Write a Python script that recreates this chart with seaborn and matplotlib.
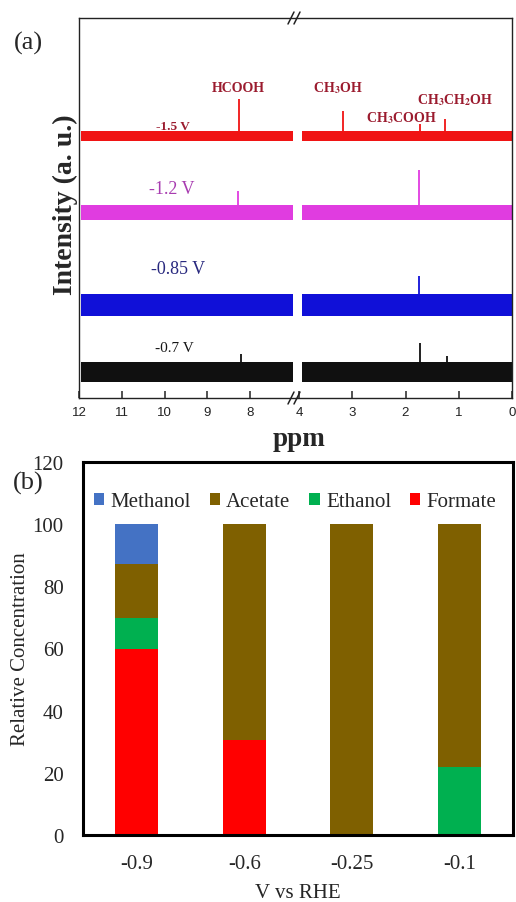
import numpy as np
import matplotlib
matplotlib.use("Agg")
import matplotlib.pyplot as plt
from matplotlib.patches import Patch
from matplotlib.lines import Line2D
import seaborn as sns

# ---------------- (a) 1H NMR spectra ----------------
spectra_labels = ["-1.5 V", "-1.2 V", "-0.85 V", "-0.7 V"]
spectra_colors = ["#f01414", "#e03ce0", "#1010d8", "#101010"]
label_colors = ["#9b1b2e", "#a83cb0", "#28287e", "#151515"]
baseline_offsets = [262, 186, 93, 26]       # vertical offset of each trace (a.u.)
noise_widths = [10, 15, 22, 20]             # thickness of the noise floor (a.u.)
peak_ppm = [[8.26, 3.17, 1.73, 1.26], [8.27, 1.74], [1.74], [8.20, 1.72, 1.23]]
peak_tops = [[299, 287, 274, 279], [207, 228], [122], [44, 55, 42]]
compounds = ["HCOOH", "CH$_\\mathbf{3}$OH", "CH$_\\mathbf{3}$COOH", "CH$_\\mathbf{3}$CH$_\\mathbf{2}$OH"]
ppm_ticks_left = [12, 11, 10, 9, 8]
ppm_ticks_right = [4, 3, 2, 1, 0]
ppm_left_range = [11.95, 7.0]
ppm_right_range = [3.95, 0.0]

# ---------------- (b) product distribution ----------------
potentials = ["-0.9", "-0.6", "-0.25", "-0.1"]
formate = [60.0, 30.6, 0.0, 0.0]
ethanol = [9.8, 0.0, 0.0, 22.0]
acetate = [17.4, 69.4, 100.0, 78.0]
methanol = [12.8, 0.0, 0.0, 0.0]
product_colors = {"Methanol": "#4472c4", "Acetate": "#7f6000",
                  "Ethanol": "#00b050", "Formate": "#ff0000"}

sns.set_style("white")
plt.rcParams["font.family"] = ["Liberation Serif", "DejaVu Serif"]
plt.rcParams["mathtext.fontset"] = "stix"
plt.rcParams["xtick.bottom"] = True
plt.rcParams["xtick.major.size"] = 4
plt.rcParams["xtick.major.width"] = 1

W, H = 516, 903
fig = plt.figure(figsize=(W / 100, H / 100), dpi=100)


def fx(px):
    return px / W


def fy(py):
    return 1 - py / H


# ---- panel (a): broken ppm axis built from two axes ----
axL = fig.add_axes([fx(79), fy(399), (296 - 79) / W, (399 - 19) / H])
axR = fig.add_axes([fx(296), fy(399), (512 - 296) / W, (399 - 19) / H])
axL.set_xlim(12, 12 - 217 / 42.75)
axR.set_xlim(4 + 3 / 53.25, 0)
for ax, rng in ((axL, ppm_left_range), (axR, ppm_right_range)):
    ax.set_ylim(0, 380)
    ax.set_facecolor("white")
    for off, w, c in zip(baseline_offsets, noise_widths, spectra_colors):
        ax.fill_between(rng, [off - w / 2] * 2, [off + w / 2] * 2, color=c, lw=0)
    ax.set_yticks([])
    for s in ax.spines.values():
        s.set_linewidth(1.0)
        s.set_color("#222222")

for ppms, tops, off, c in zip(peak_ppm, peak_tops, baseline_offsets, spectra_colors):
    for p, t in zip(ppms, tops):
        ax = axL if p > 5 else axR
        ax.vlines(p, off, t, color=c, lw=1.3)

axL.spines["right"].set_visible(False)
axR.spines["left"].set_visible(False)
axL.set_xticks(ppm_ticks_left)
axR.set_xticks(ppm_ticks_right)
for ax in (axL, axR):
    ax.tick_params(axis="x", which="major", direction="in", length=5, width=1.1,
                   color="#222222", labelcolor="#222222", labelsize=9.5, pad=6,
                   labelfontfamily="Liberation Sans", bottom=True, top=False)

# axis-break marks
for ybase in (19, 399):
    for dx in (0, 6):
        fig.add_artist(Line2D([fx(288 + dx), fx(294 + dx)],
                              [fy(ybase + 6), fy(ybase - 6)],
                              transform=fig.transFigure, color="#222222", lw=1.1))

fig.text(fx(65), fy(205), "Intensity (a. u.)", rotation=90, ha="center",
         va="center", fontsize=20, fontweight="bold")
fig.text(fx(299), fy(440), "ppm", ha="center", va="center", fontsize=19.5,
         fontweight="bold")
fig.text(fx(28), fy(43), "(a)", ha="center", va="center", fontsize=19)

spec_label_pos = [(173, 127), (172, 190), (178, 269), (174, 348)]
spec_label_size = [9.5, 13, 13, 11]
spec_label_weight = ["bold", "normal", "normal", "normal"]
for txt, (x, y), c, fs, fw in zip(spectra_labels, spec_label_pos, label_colors,
                                  spec_label_size, spec_label_weight):
    fig.text(fx(x), fy(y), txt, ha="center", va="center", color=c,
             fontsize=fs, fontweight=fw)

compound_pos = [(238, 88), (338, 88), (401, 118), (455, 100)]
for txt, (x, y) in zip(compounds, compound_pos):
    fig.text(fx(x), fy(y), txt, ha="center", va="center", color="#9b1b2e",
             fontsize=10, fontweight="bold")

# ---- panel (b): stacked bars ----
axB = fig.add_axes([fx(83), fy(836), (513 - 83) / W, (836 - 463) / H])
bottoms = np.zeros(len(potentials))
for name, vals in (("Formate", formate), ("Ethanol", ethanol),
                   ("Acetate", acetate), ("Methanol", methanol)):
    sns.barplot(x=potentials, y=vals, bottom=bottoms.copy(),
                color=product_colors[name], saturation=1, width=0.4,
                errorbar=None, ax=axB, linewidth=0)
    bottoms += np.array(vals)

axB.set_xlim(-0.5, len(potentials) - 0.5)
axB.set_ylim(0, 120)
axB.set_yticks(range(0, 121, 20))
axB.tick_params(length=0, labelsize=15, pad=14)
for s in axB.spines.values():
    s.set_visible(True)
    s.set_linewidth(2.2)
    s.set_color("black")
axB.set_xlabel("V vs RHE", fontsize=15)
axB.set_ylabel("Relative Concentration", fontsize=15)
axB.xaxis.set_label_coords(0.5, -0.128)
axB.yaxis.set_label_coords(-0.123, 0.5)

legend_order = ["Methanol", "Acetate", "Ethanol", "Formate"]
handles = [Patch(facecolor=product_colors[n], edgecolor="none") for n in legend_order]
axB.legend(handles, legend_order, loc="center", bbox_to_anchor=(0.493, 0.893),
           ncol=4, frameon=False, fontsize=15, handlelength=0.5,
           handleheight=0.5, handletextpad=0.3, columnspacing=0.9,
           borderaxespad=0)

fig.text(fx(28), fy(483), "(b)", ha="center", va="center", fontsize=19)

fig.savefig("out.png", dpi=100)
